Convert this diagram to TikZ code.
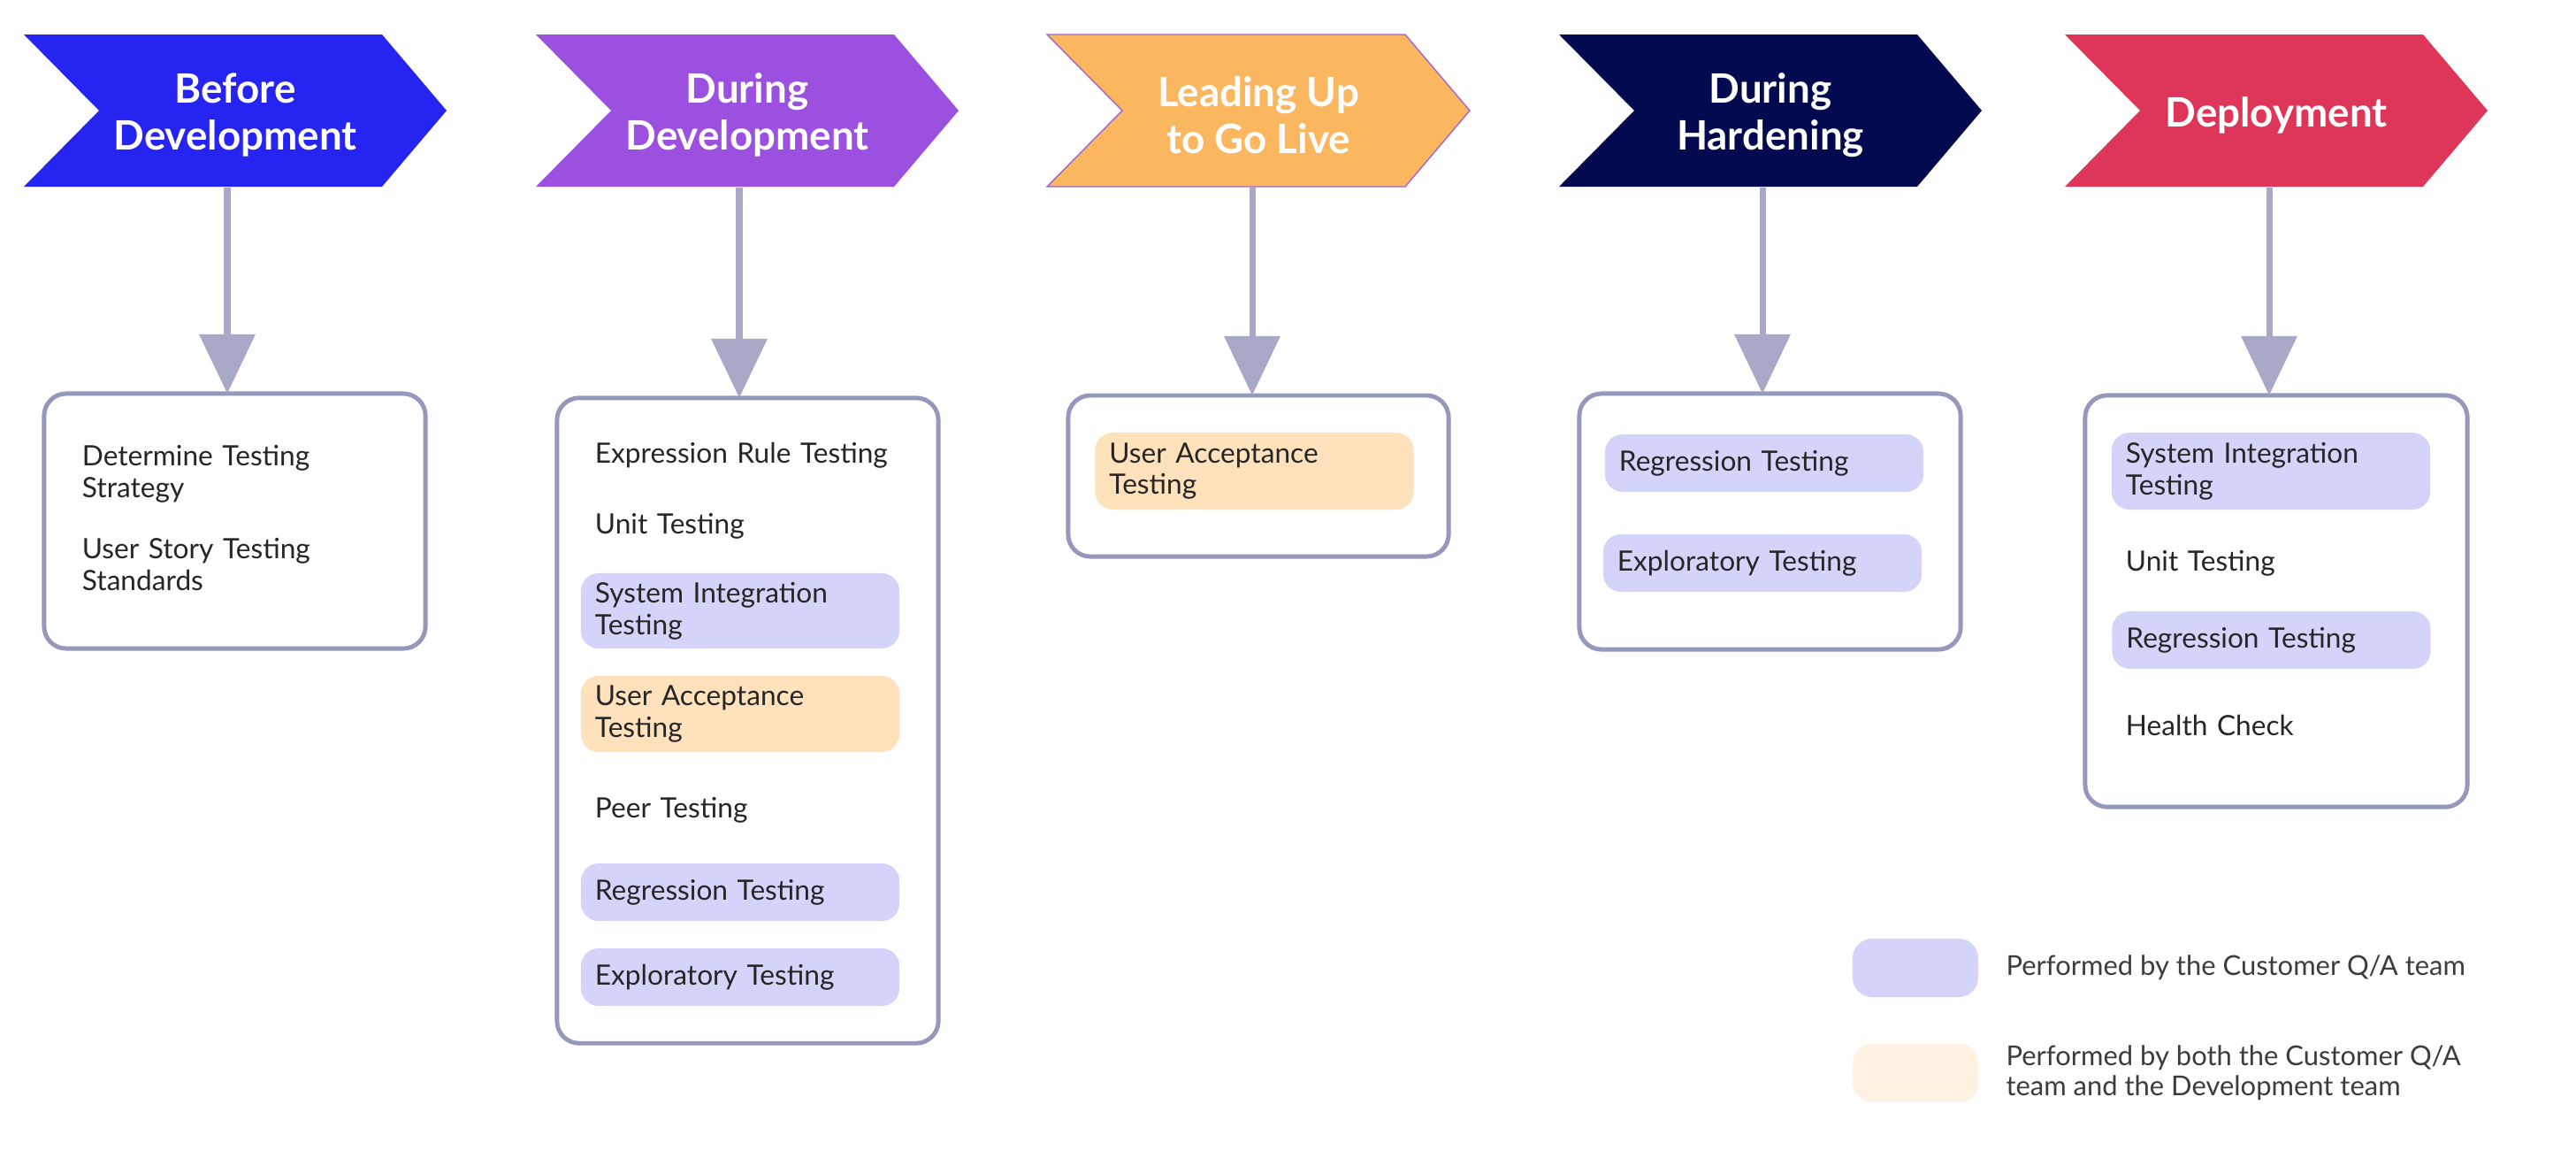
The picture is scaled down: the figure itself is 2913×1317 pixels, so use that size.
\documentclass[tikz,border=0pt]{standalone}
\usepackage{fontspec}
\setmainfont{Lato}
\usetikzlibrary{positioning, arrows.meta}
\hyphenpenalty=10000
\exhyphenpenalty=10000

\definecolor{phaseblue}{HTML}{2624F0}
\definecolor{phasepurple}{HTML}{9C50E0}
\definecolor{phaseorange}{HTML}{FBB660}
\definecolor{phasenavy}{HTML}{030A4F}
\definecolor{phasered}{HTML}{DE3658}
\definecolor{orangeedge}{HTML}{A066D0}
\definecolor{arrowgray}{HTML}{A7A9C6}
\definecolor{boxline}{HTML}{9597BB}
\definecolor{qablue}{HTML}{D4D4FA}
\definecolor{uapeach}{HTML}{FFE1BC}
\definecolor{legpeach}{HTML}{FFF2E2}
\definecolor{ink}{HTML}{262626}
\definecolor{legink}{HTML}{3C3C3C}

\begin{document}
\begin{tikzpicture}[
        x=0.01cm, y=-0.01cm,
        phase/.style={minimum width=4.78cm, minimum height=1.62cm, inner sep=0pt, align=center, text=white, font=\bfseries\fontsize{13pt}{15pt}\selectfont},
        stage/.style={rectangle, draw=boxline, line width=1.4pt, rounded corners=0.25cm, fill=white, outer sep=0pt},
        entry/.style={text width=3.28cm, inner xsep=0.16cm, inner ysep=0pt, align=left, text=ink, font=\fontsize{9pt}{10.2pt}\selectfont},
        qapill/.style={entry, fill=qablue, rounded corners=0.2cm, minimum height=0.65cm},
        duopill/.style={qapill, fill=uapeach},
        swatch/.style={rectangle, rounded corners=0.22cm, minimum width=1.42cm, minimum height=0.66cm, inner sep=0pt},
        legtext/.style={inner sep=0pt, align=left, text=legink, font=\fontsize{8.8pt}{9.8pt}\selectfont},
        arrow/.style={-{Triangle[width=0.62cm, length=0.67cm]}, line width=2pt, arrowgray}
    ]
        \useasboundingbox (0,0) rectangle (2913,1317);

        % Phases
        \fill[phaseblue] (27,39) -- (432,39) -- (505,125) -- (432,211) -- (27,211) -- (112,125) -- cycle;
        \node[phase] (before) at (266,130) {Before\\Development};
        \fill[phasepurple] (606,39) -- (1011,39) -- (1084,125) -- (1011,211) -- (606,211) -- (691,125) -- cycle;
        \node[phase] (during) at (845,130) {During\\Development};
        \filldraw[fill=phaseorange, draw=orangeedge, line width=0.4pt] (1184,39) -- (1589,39) -- (1662,125) -- (1589,211) -- (1184,211) -- (1269,125) -- cycle;
        \node[phase] (golive) at (1423,130) {Leading Up\\to Go Live};
        \fill[phasenavy] (1763,39) -- (2168,39) -- (2241,125) -- (2168,211) -- (1763,211) -- (1848,125) -- cycle;
        \node[phase] (harden) at (2002,130) {During\\Hardening};
        \fill[phasered] (2335,39) -- (2740,39) -- (2813,125) -- (2740,211) -- (2335,211) -- (2420,125) -- cycle;
        \node[phase] (deploy) at (2574,130) {Deployment};

        % Stage boxes
        \node[stage, minimum width=4.31cm, minimum height=2.88cm] (box1) at (265.5,589) {};
        \node[stage, minimum width=4.31cm, minimum height=7.29cm] (box2) at (845.5,814.5) {};
        \node[stage, minimum width=4.30cm, minimum height=1.82cm] (box3) at (1423,538) {};
        \node[stage, minimum width=4.31cm, minimum height=2.89cm] (box4) at (2001.5,589.5) {};
        \node[stage, minimum width=4.32cm, minimum height=4.65cm] (box5) at (2574,679.5) {};

        % Arrows
        \coordinate (a1) at ([xshift=-0.09cm]before.south);
        \coordinate (a2) at ([xshift=-0.09cm]during.south);
        \coordinate (a3) at ([xshift=-0.07cm]golive.south);
        \coordinate (a4) at ([xshift=-0.09cm]harden.south);
        \coordinate (a5) at ([xshift=-0.08cm]deploy.south);
        \draw[arrow] (a1) -- (a1 |- box1.north);
        \draw[arrow] (a2) -- (a2 |- box2.north);
        \draw[arrow] (a3) -- (a3 |- box3.north);
        \draw[arrow] (a4) -- (a4 |- box4.north);
        \draw[arrow] (a5) -- (a5 |- box5.north);

        % Before development
        \node[entry] (strat) at (257,536) {Determine Testing\\Strategy};
        \node[entry] (story) at (257,638) {User Story Testing\\Standards};

        % During development
        \node[entry, text width=3.6cm] (expr) at (853,515) {Expression Rule Testing};
        \node[entry] (unit1) at (837,595) {Unit Testing};
        \node[qapill, minimum height=0.85cm] (sit1) at (837,690.5) {System Integration\\Testing};
        \node[duopill, minimum height=0.86cm] (uat1) at (837,807) {User Acceptance\\Testing};
        \node[entry] (peer) at (837,916) {Peer Testing};
        \node[qapill] (reg1) at (837,1008.5) {Regression Testing};
        \node[qapill] (expl1) at (837,1104.5) {Exploratory Testing};

        % Leading up to go live
        \node[duopill, minimum height=0.87cm] (uat2) at (1418.5,532.5) {User Acceptance\\Testing};

        % During hardening
        \node[qapill] (reg2) at (1995,523.5) {Regression Testing};
        \node[qapill] (expl2) at (1993,636.5) {Exploratory Testing};

        % Deployment
        \node[qapill, minimum height=0.87cm] (sit2) at (2568,532.5) {System Integration\\Testing};
        \node[entry] (unit2) at (2568,637) {Unit Testing};
        \node[qapill] (reg3) at (2568.5,723.5) {Regression Testing};
        \node[entry] (health) at (2568,820) {Health Check};

        % Legend
        \node[swatch, fill=qablue] (keyqa) at (2166,1094) {};
        \node[legtext, right=0.3cm of keyqa] (keyqatext) {Performed by the Customer Q/A team};
        \node[swatch, fill=legpeach] (keyboth) at (2166,1212.5) {};
        \node[legtext, right=0.3cm of keyboth] (keybothtext) {Performed by both the Customer Q/A\\team and the Development team};
    \end{tikzpicture}
\end{document}
